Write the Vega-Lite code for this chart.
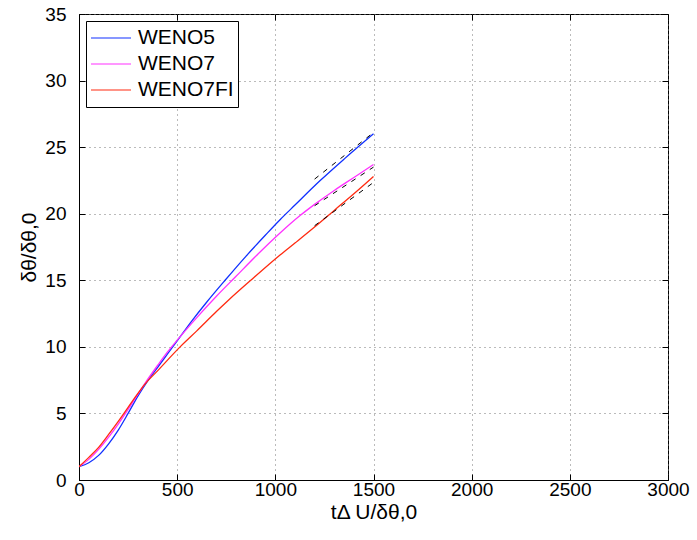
{
  "$schema": "https://vega.github.io/schema/vega-lite/v6.json",
  "width": 589,
  "height": 466,
  "autosize": {"type": "none"},
  "padding": {"left": 79, "top": 14, "right": 29, "bottom": 60},
  "background": "white",
  "config": {
    "font": "Liberation Sans",
    "view": {"stroke": "black", "strokeWidth": 1},
    "axis": {
      "domainColor": "black",
      "tickColor": "black",
      "tickSize": -6,
      "labelColor": "black",
      "labelFontSize": 19,
      "labelFlush": false,
      "titleColor": "black",
      "titleFontSize": 21,
      "titleFontWeight": "normal",
      "gridColor": "#777777",
      "gridDash": [1, 4],
      "gridWidth": 1,
      "format": "d"
    },
    "legend": {
      "orient": "top-left",
      "offset": 7,
      "strokeColor": "black",
      "fillColor": "white",
      "padding": 4,
      "labelFontSize": 21,
      "labelColor": "black",
      "labelOffset": 6,
      "symbolType": "stroke",
      "symbolSize": 1600,
      "symbolStrokeWidth": 1.2,
      "rowPadding": 0,
      "clipHeight": 26,
      "title": null
    }
  },
  "datasets": {
    "curves": [
      {"x": 0, "y": 1.0, "series": "WENO5"},
      {"x": 50, "y": 1.3, "series": "WENO5"},
      {"x": 100, "y": 1.85, "series": "WENO5"},
      {"x": 150, "y": 2.7, "series": "WENO5"},
      {"x": 200, "y": 3.75, "series": "WENO5"},
      {"x": 250, "y": 5.0, "series": "WENO5"},
      {"x": 300, "y": 6.3, "series": "WENO5"},
      {"x": 350, "y": 7.45, "series": "WENO5"},
      {"x": 400, "y": 8.45, "series": "WENO5"},
      {"x": 450, "y": 9.45, "series": "WENO5"},
      {"x": 500, "y": 10.45, "series": "WENO5"},
      {"x": 575, "y": 11.95, "series": "WENO5"},
      {"x": 650, "y": 13.35, "series": "WENO5"},
      {"x": 744, "y": 15.0, "series": "WENO5"},
      {"x": 850, "y": 16.8, "series": "WENO5"},
      {"x": 950, "y": 18.4, "series": "WENO5"},
      {"x": 1024, "y": 19.55, "series": "WENO5"},
      {"x": 1100, "y": 20.65, "series": "WENO5"},
      {"x": 1227, "y": 22.47, "series": "WENO5"},
      {"x": 1350, "y": 24.1, "series": "WENO5"},
      {"x": 1500, "y": 26.0, "series": "WENO5"},
      {"x": 0, "y": 1.0, "series": "WENO7"},
      {"x": 50, "y": 1.55, "series": "WENO7"},
      {"x": 100, "y": 2.3, "series": "WENO7"},
      {"x": 150, "y": 3.2, "series": "WENO7"},
      {"x": 200, "y": 4.2, "series": "WENO7"},
      {"x": 250, "y": 5.3, "series": "WENO7"},
      {"x": 300, "y": 6.45, "series": "WENO7"},
      {"x": 336, "y": 7.26, "series": "WENO7"},
      {"x": 400, "y": 8.6, "series": "WENO7"},
      {"x": 450, "y": 9.6, "series": "WENO7"},
      {"x": 500, "y": 10.5, "series": "WENO7"},
      {"x": 600, "y": 12.2, "series": "WENO7"},
      {"x": 700, "y": 13.8, "series": "WENO7"},
      {"x": 800, "y": 15.3, "series": "WENO7"},
      {"x": 900, "y": 16.8, "series": "WENO7"},
      {"x": 1024, "y": 18.55, "series": "WENO7"},
      {"x": 1126, "y": 19.86, "series": "WENO7"},
      {"x": 1200, "y": 20.7, "series": "WENO7"},
      {"x": 1300, "y": 21.75, "series": "WENO7"},
      {"x": 1406, "y": 22.78, "series": "WENO7"},
      {"x": 1500, "y": 23.7, "series": "WENO7"},
      {"x": 0, "y": 1.0, "series": "WENO7FI"},
      {"x": 50, "y": 1.7, "series": "WENO7FI"},
      {"x": 100, "y": 2.45, "series": "WENO7FI"},
      {"x": 150, "y": 3.4, "series": "WENO7FI"},
      {"x": 200, "y": 4.4, "series": "WENO7FI"},
      {"x": 250, "y": 5.45, "series": "WENO7FI"},
      {"x": 300, "y": 6.5, "series": "WENO7FI"},
      {"x": 336, "y": 7.2, "series": "WENO7FI"},
      {"x": 400, "y": 8.2, "series": "WENO7FI"},
      {"x": 515, "y": 10.0, "series": "WENO7FI"},
      {"x": 600, "y": 11.2, "series": "WENO7FI"},
      {"x": 700, "y": 12.65, "series": "WENO7FI"},
      {"x": 761, "y": 13.5, "series": "WENO7FI"},
      {"x": 875, "y": 15.0, "series": "WENO7FI"},
      {"x": 1024, "y": 16.9, "series": "WENO7FI"},
      {"x": 1100, "y": 17.8, "series": "WENO7FI"},
      {"x": 1200, "y": 19.0, "series": "WENO7FI"},
      {"x": 1300, "y": 20.25, "series": "WENO7FI"},
      {"x": 1400, "y": 21.5, "series": "WENO7FI"},
      {"x": 1500, "y": 22.8, "series": "WENO7FI"}
    ],
    "fits": [
      {"x": 1200, "y": 22.6, "series": "fit5"},
      {"x": 1500, "y": 26.1, "series": "fit5"},
      {"x": 1200, "y": 20.6, "series": "fit7"},
      {"x": 1500, "y": 23.5, "series": "fit7"},
      {"x": 1200, "y": 19.1, "series": "fit7FI"},
      {"x": 1500, "y": 22.35, "series": "fit7FI"}
    ]
  },
  "layer": [
    {
      "data": {"name": "curves"},
      "mark": {"type": "line", "strokeWidth": 1.3, "clip": true, "interpolate": "monotone"},
      "encoding": {
        "x": {
          "field": "x", "type": "quantitative",
          "scale": {"domain": [0, 3000], "nice": false},
          "axis": {"values": [0, 500, 1000, 1500, 2000, 2500, 3000], "grid": true, "labelPadding": 6, "title": "tΔ U/δθ,0", "titlePadding": 2}
        },
        "y": {
          "field": "y", "type": "quantitative",
          "scale": {"domain": [0, 35], "nice": false},
          "axis": {"values": [0, 5, 10, 15, 20, 25, 30, 35], "grid": true, "labelPadding": 19, "title": "δθ/δθ,0", "titlePadding": 5}
        },
        "color": {
          "field": "series", "type": "nominal",
          "scale": {"domain": ["WENO5", "WENO7", "WENO7FI"], "range": ["#1030ff", "#ff30ff", "#ff2a10"]},
          "legend": {}
        }
      }
    },
    {
      "data": {"name": "fits"},
      "mark": {"type": "line", "strokeDash": [5, 6], "color": "black", "strokeWidth": 1},
      "encoding": {
        "x": {"field": "x", "type": "quantitative", "axis": {"orient": "top", "values": [0, 500, 1000, 1500, 2000, 2500, 3000], "labels": false, "grid": false, "title": null, "domain": false}},
        "y": {"field": "y", "type": "quantitative", "axis": {"orient": "right", "values": [0, 5, 10, 15, 20, 25, 30, 35], "labels": false, "grid": false, "title": null, "domain": false}},
        "detail": {"field": "series", "type": "nominal"}
      }
    }
  ],
  "resolve": {"axis": {"x": "independent", "y": "independent"}}
}
